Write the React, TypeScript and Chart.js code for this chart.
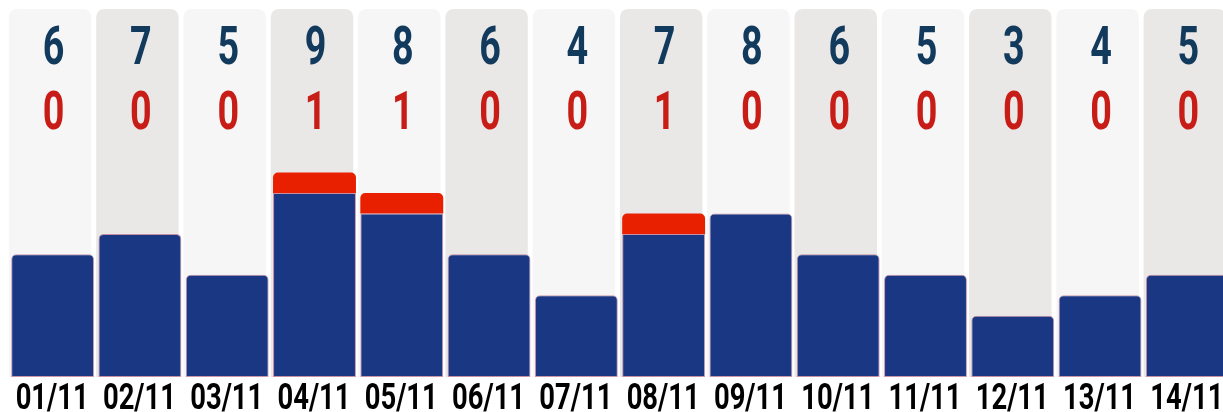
import React, { useEffect, useRef } from "react";
import { Chart, registerables } from "chart.js";

Chart.register(...registerables);

const categories = ["01/11", "02/11", "03/11", "04/11", "05/11", "06/11", "07/11", "08/11", "09/11", "10/11", "11/11", "12/11", "13/11", "14/11"];
const blueValues = [6, 7, 5, 9, 8, 6, 4, 7, 8, 6, 5, 3, 4, 5];
const redValues = [0, 0, 0, 1, 1, 0, 0, 1, 0, 0, 0, 0, 0, 0];
const yMax = 18;

const FONT = "Roboto, 'Liberation Sans', sans-serif";
const BLUE_BAR = "#1a3784";
const RED_BAR = "#e82000";
const BLUE_TEXT = "#123a5c";
const RED_TEXT = "#c81c16";
const BG_LIGHT = "#f6f6f6";
const BG_DARK = "#eae8e7";

function roundTopRect(ctx: CanvasRenderingContext2D, x: number, y: number, w: number, h: number, r: number) {
  ctx.beginPath();
  ctx.moveTo(x, y + h);
  ctx.lineTo(x, y + r);
  ctx.quadraticCurveTo(x, y, x + r, y);
  ctx.lineTo(x + w - r, y);
  ctx.quadraticCurveTo(x + w, y, x + w, y + r);
  ctx.lineTo(x + w, y + h);
  ctx.closePath();
}

const columnsPlugin = {
  id: "columnsPlugin",
  beforeDatasetsDraw(chart: any) {
    const { ctx, chartArea, scales } = chart;
    const xs = scales.x;
    const step = chartArea.width / categories.length;
    const w = step * 0.945;
    ctx.save();
    categories.forEach((_, i) => {
      const cx = xs.getPixelForValue(i) - 2.5;
      ctx.fillStyle = i % 2 === 0 ? BG_LIGHT : BG_DARK;
      roundTopRect(ctx, cx - w / 2, chartArea.top, w, chartArea.bottom - chartArea.top, 9);
      ctx.fill();
    });
    ctx.restore();
  },
  afterDatasetsDraw(chart: any) {
    const { ctx, chartArea, scales } = chart;
    const xs = scales.x;
    ctx.save();
    // top value numbers
    ctx.font = `bold 53px ${FONT}`;
    ctx.textAlign = "center";
    ctx.textBaseline = "alphabetic";
    const m = ctx.measureText("0");
    const inkW = m.actualBoundingBoxLeft + m.actualBoundingBoxRight;
    const sx = 18.5 / inkW;
    categories.forEach((_, i) => {
      const cx = xs.getPixelForValue(i) + 1;
      ctx.save();
      ctx.translate(cx, 0);
      ctx.scale(sx, 1);
      ctx.fillStyle = BLUE_TEXT;
      ctx.fillText(String(blueValues[i]), 0, chartArea.top + 55);
      ctx.fillStyle = RED_TEXT;
      ctx.fillText(String(redValues[i]), 0, chartArea.top + 120);
      ctx.restore();
    });
    // x axis labels
    ctx.font = `bold 37px ${FONT}`;
    const lw = ctx.measureText(categories[0]).width;
    const lsx = 73 / lw;
    ctx.fillStyle = "#000";
    categories.forEach((lab, i) => {
      const cx = xs.getPixelForValue(i) - 0.5;
      ctx.save();
      ctx.translate(cx, 0);
      ctx.scale(lsx, 1);
      ctx.fillText(lab, 0, chartArea.bottom + 32);
      ctx.restore();
    });
    ctx.restore();
  },
};

export default function App() {
  const canvasRef = useRef<HTMLCanvasElement | null>(null);

  useEffect(() => {
    document.body.style.margin = "0";
    const canvas = canvasRef.current;
    if (!canvas) return;
    const chart = new Chart(canvas, {
      type: "bar",
      data: {
        labels: categories,
        datasets: [
          {
            label: "blue",
            data: blueValues,
            backgroundColor: BLUE_BAR,
            borderColor: "rgba(170,70,110,0.55)",
            borderWidth: 1,
            borderSkipped: false,
            borderRadius: (c: any) =>
              redValues[c.dataIndex] > 0
                ? 0
                : { topLeft: 5, topRight: 5, bottomLeft: 0, bottomRight: 0 },
            barPercentage: 0.95,
            categoryPercentage: 1,
            stack: "s",
          },
          {
            label: "red",
            data: redValues,
            backgroundColor: RED_BAR,
            borderWidth: 0,
            borderSkipped: "start",
            borderRadius: { topLeft: 5, topRight: 5, bottomLeft: 0, bottomRight: 0 },
            barPercentage: 0.95,
            categoryPercentage: 1,
            stack: "s",
          },
        ],
      },
      options: {
        animation: false,
        responsive: false,
        maintainAspectRatio: false,
        layout: { padding: { left: 1, top: 1, right: 0, bottom: 0 } },
        plugins: {
          legend: { display: false },
          tooltip: { enabled: false },
          title: { display: false },
        },
        scales: {
          x: {
            stacked: true,
            grid: { display: false, drawTicks: false },
            border: { display: false },
            ticks: { display: false },
            afterFit: (scale: any) => {
              scale.height = 35;
            },
          },
          y: {
            stacked: true,
            display: false,
            min: 0,
            max: yMax,
          },
        },
      },
      plugins: [columnsPlugin],
    });
    return () => chart.destroy();
  }, []);

  return (
    <div style={{ width: "1223px", height: "412px", overflow: "hidden", boxSizing: "border-box", paddingTop: "8px", paddingLeft: "8px" }}>
      <canvas ref={canvasRef} width={1223} height={404} style={{ width: "1223px", height: "404px", display: "block" }} />
    </div>
  );
}
